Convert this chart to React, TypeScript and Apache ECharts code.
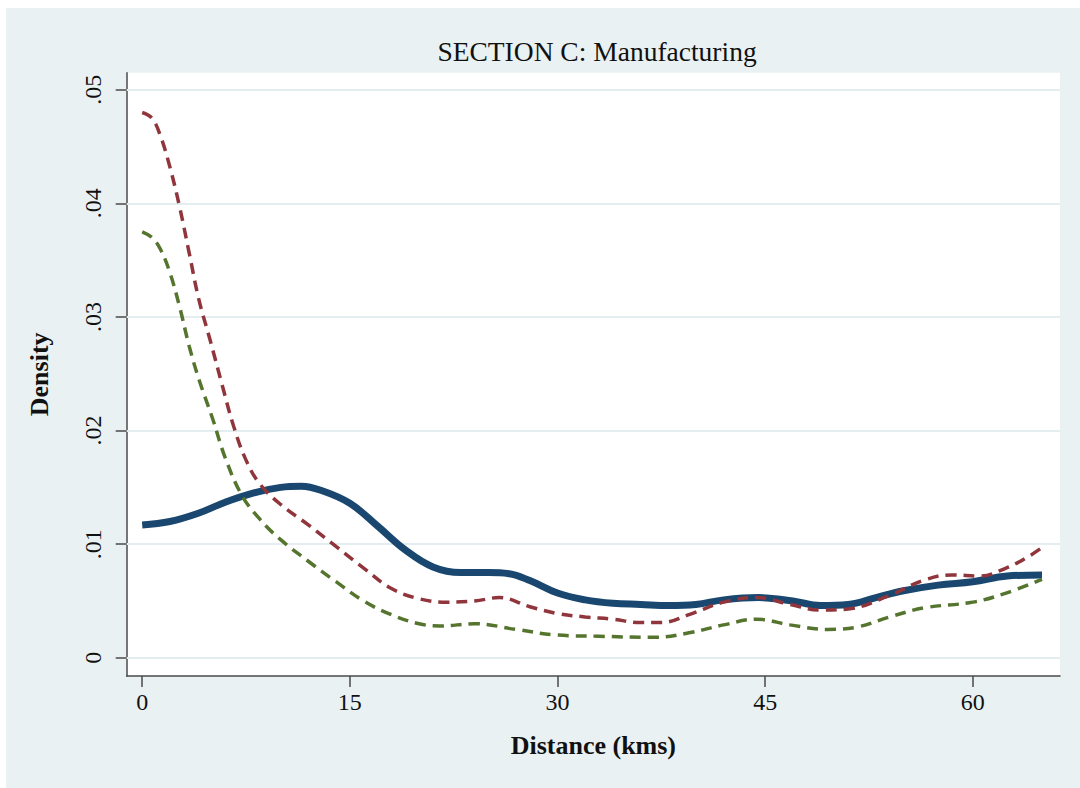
import React, { useEffect, useRef } from "react";
import * as echarts from "echarts";

const titleText = "SECTION C: Manufacturing";
const xAxisName = "Distance (kms)";
const yAxisName = "Density";
const xTicks = [0, 15, 30, 45, 60];
const yTicks = [0, 0.01, 0.02, 0.03, 0.04, 0.05];

// Solid navy curve
const navyX = [0, 2, 4, 6, 8, 10, 11.5, 13, 15, 17, 19, 21, 23, 25, 26.5, 28, 30, 32, 34, 36, 38, 40, 42, 44.5, 47, 49, 51, 53, 55, 57.5, 60, 62.5, 65];
const navyY = [0.0117, 0.0120, 0.0127, 0.0137, 0.0145, 0.0150, 0.0151, 0.0147, 0.0136, 0.0116, 0.0095, 0.0080, 0.0075, 0.0075, 0.0074, 0.0068, 0.0057, 0.0051, 0.0048, 0.0047, 0.0046, 0.0047, 0.0051, 0.0053, 0.0050, 0.0046, 0.0047, 0.0053, 0.0059, 0.0064, 0.0067, 0.0072, 0.0073];

// Red dashed curve
const redX = [0, 0.7, 1.3, 2, 2.7, 3.4, 4.1, 4.9, 5.8, 6.6, 7.5, 8.5, 10, 12, 14, 16, 18, 20, 22, 24, 25.8, 28, 30, 32, 34, 36, 37.5, 39.5, 42, 44.4, 46.8, 49, 51, 54, 56.4, 58.5, 60.5, 62.4, 64, 65];
const redY = [0.0480, 0.0475, 0.0460, 0.0432, 0.0397, 0.0356, 0.0315, 0.0280, 0.0239, 0.0204, 0.0174, 0.0153, 0.0135, 0.0117, 0.0098, 0.0079, 0.0061, 0.0052, 0.0049, 0.0050, 0.0053, 0.0045, 0.0039, 0.0036, 0.0034, 0.0031, 0.0031, 0.0038, 0.0049, 0.0053, 0.0047, 0.0042, 0.0043, 0.0055, 0.0068, 0.0073, 0.0072, 0.0079, 0.0089, 0.0097];

// Green dashed curve
const greenX = [0, 0.7, 1.3, 2, 2.7, 3.4, 4.1, 5.1, 6, 7.2, 8.5, 10, 12, 14, 16, 18, 20, 21.5, 24, 27, 30, 33, 37, 39.5, 42, 44.4, 46.8, 49.5, 51.6, 54, 56.5, 60, 62.4, 65];
const greenY = [0.0375, 0.0370, 0.0360, 0.0339, 0.0309, 0.0274, 0.0245, 0.0210, 0.0176, 0.0143, 0.0122, 0.0104, 0.0085, 0.0067, 0.0050, 0.0038, 0.0030, 0.0028, 0.0030, 0.0025, 0.0020, 0.0019, 0.0018, 0.0022, 0.0029, 0.0034, 0.0029, 0.0025, 0.0027, 0.0036, 0.0044, 0.0049, 0.0057, 0.0069];

const FONT = "'Liberation Serif', 'DejaVu Serif', serif";
const AXIS_COLOR = "#4a4a4a";

const zip = (xs: number[], ys: number[]) => xs.map((x, i) => [x, ys[i]]);

const fmtY = (v: number) => {
  if (Math.abs(v) < 1e-9) return "0";
  return "." + String(Math.round(v * 100)).padStart(2, "0");
};

export default function App() {
  const ref = useRef<HTMLDivElement>(null);
  useEffect(() => {
    if (!ref.current) return;
    const chart = echarts.init(ref.current, null, { renderer: "svg" });
    chart.setOption({
      animation: false,
      backgroundColor: "#EAF1F3",
      title: {
        text: titleText,
        left: 586,
        top: 24,
        textAlign: "center",
        textStyle: { fontFamily: FONT, fontSize: 27.5, fontWeight: "normal", color: "#111" },
      },
      grid: {
        left: 120.7,
        right: 20,
        top: 64.7,
        bottom: 112,
        show: true,
        backgroundColor: "#ffffff",
        borderWidth: 0,
      },
      xAxis: {
        type: "value",
        min: -1.12,
        max: 66.3,
        name: xAxisName,
        nameLocation: "middle",
        nameGap: 56,
        nameTextStyle: { fontFamily: FONT, fontSize: 26, color: "#111", fontWeight: "bold" },
        axisLine: { show: true, onZero: false, lineStyle: { color: AXIS_COLOR, width: 1.5 } },
        axisTick: { show: true, length: 11, customValues: xTicks, lineStyle: { color: AXIS_COLOR, width: 1.5 } },
        axisLabel: { customValues: xTicks, fontFamily: FONT, fontSize: 24, color: "#111", margin: 14 },
        splitLine: { show: false },
      },
      yAxis: {
        type: "value",
        min: -0.0016,
        max: 0.0515,
        name: yAxisName,
        nameLocation: "middle",
        nameGap: 74,
        nameTextStyle: { fontFamily: FONT, fontSize: 26, color: "#111", fontWeight: "bold" },
        axisLine: { show: true, onZero: false, lineStyle: { color: AXIS_COLOR, width: 1.5 } },
        axisTick: { show: true, length: 11, customValues: yTicks, lineStyle: { color: AXIS_COLOR, width: 1.5 } },
        axisLabel: {
          customValues: yTicks,
          rotate: 90,
          fontFamily: FONT,
          fontSize: 24,
          color: "#111",
          margin: 22,
          formatter: fmtY,
        },
        splitLine: { show: false },
      },
      series: [
        {
          type: "line",
          data: [],
          z: 1,
          markLine: {
            silent: true,
            z: 1,
            symbol: "none",
            label: { show: false },
            lineStyle: { color: "#E4EDF0", width: 2, type: "solid" },
            data: yTicks.map((v) => ({ yAxis: v })),
          },
        },
        {
          type: "line",
          data: zip(navyX, navyY),
          smooth: 0.4,
          showSymbol: false,
          z: 3,
          lineStyle: { color: "#1A476F", width: 7 },
        },
        {
          type: "line",
          data: zip(redX, redY),
          smooth: 0.4,
          showSymbol: false,
          z: 4,
          lineStyle: { color: "#90353B", width: 3.5, type: [11, 7] },
        },
        {
          type: "line",
          data: zip(greenX, greenY),
          smooth: 0.4,
          showSymbol: false,
          z: 5,
          lineStyle: { color: "#55752F", width: 3.5, type: [11, 7] },
        },
      ],
    });
    return () => chart.dispose();
  }, []);

  return (
    <div style={{ position: "fixed", left: 0, top: 0, width: 1080, height: 788, background: "#ffffff" }}>
      <div ref={ref} style={{ position: "absolute", left: 6, top: 8, width: 1074, height: 780 }} />
    </div>
  );
}
